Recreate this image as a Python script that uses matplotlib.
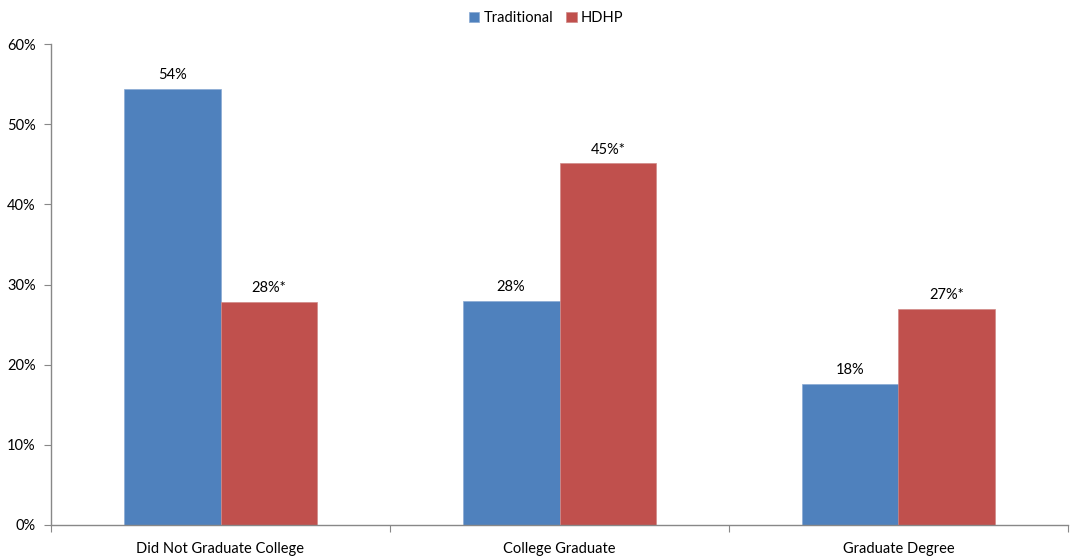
import numpy as np
import matplotlib.pyplot as plt
from matplotlib.ticker import PercentFormatter

categories = ['Did Not Graduate College', 'College Graduate', 'Graduate Degree']
traditional = [54.4, 28.0, 17.6]
hdhp = [27.8, 45.1, 26.9]
trad_labels = ['54%', '28%', '18%']
hdhp_labels = ['28%*', '45%*', '27%*']

plt.rcParams['font.family'] = ['Lato', 'DejaVu Sans']

fig = plt.figure(figsize=(10.7, 5.56), dpi=100)
ax = fig.add_axes([51 / 1070, 1 - 525 / 556, 1017 / 1070, 481 / 556])

x = np.arange(len(categories))
w = 0.286
b1 = ax.bar(x - w / 2, traditional, w, color='#4F81BD', edgecolor='#8AAAD4',
            linewidth=0.5, label='Traditional')
b2 = ax.bar(x + w / 2, hdhp, w, color='#C0504D', edgecolor='#D08A88',
            linewidth=0.5, label='HDHP')

for bars, labs in ((b1, trad_labels), (b2, hdhp_labels)):
    for rect, lab in zip(bars, labs):
        ax.annotate(lab, (rect.get_x() + rect.get_width() / 2, rect.get_height()),
                    xytext=(0, 5), textcoords='offset points',
                    ha='center', va='bottom', fontsize=10.5)

ax.set_xlim(-0.5, 2.5)
ax.set_ylim(0, 60)
ax.set_yticks(np.arange(0, 61, 10))
ax.yaxis.set_major_formatter(PercentFormatter(decimals=0))

# category boundary ticks like Excel
ax.set_xticks([-0.5, 0.5, 1.5, 2.5])
ax.set_xticklabels([])
ax.set_xticks(x, minor=True)
ax.set_xticklabels(categories, minor=True, fontsize=10.5)
ax.tick_params(axis='x', which='minor', length=0, pad=12)
ax.tick_params(axis='x', which='major', length=5, color='#888888', direction='out')
ax.tick_params(axis='y', length=5, color='#888888', labelsize=10.5, pad=6)

for s in ('top', 'right'):
    ax.spines[s].set_visible(False)
for s in ('left', 'bottom'):
    ax.spines[s].set_color('#888888')
    ax.spines[s].set_linewidth(1)

ax.legend(loc='upper center', bbox_to_anchor=(0.487, 1.095), ncol=2, frameon=False,
          fontsize=10.5, handlelength=0.7, handleheight=0.7, handletextpad=0.3,
          columnspacing=0.9)

fig.savefig('out.png', dpi=100)
